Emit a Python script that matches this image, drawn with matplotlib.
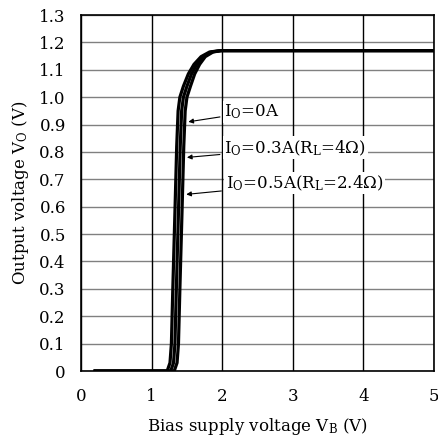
import matplotlib
matplotlib.use("Agg")
import matplotlib.pyplot as plt

plt.rcParams['font.family'] = ['DejaVu Serif']
plt.rcParams['mathtext.fontset'] = 'dejavuserif'

# curves (V_B, V_O)
vo_pts = [0.0, 0.0, 0.03, 0.10, 0.30, 0.58, 0.82, 0.95, 1.00, 1.04, 1.085, 1.12, 1.148, 1.165, 1.17, 1.17]
vb_0a = [0.2, 1.22, 1.26, 1.28, 1.30, 1.33, 1.355, 1.375, 1.40, 1.45, 1.52, 1.60, 1.70, 1.82, 1.97, 5.0]
vb_03a = [0.2, 1.27, 1.31, 1.33, 1.35, 1.38, 1.405, 1.425, 1.45, 1.50, 1.565, 1.64, 1.73, 1.845, 1.98, 5.0]
vb_05a = [0.2, 1.32, 1.36, 1.38, 1.40, 1.43, 1.455, 1.475, 1.50, 1.55, 1.61, 1.68, 1.76, 1.87, 1.99, 5.0]

x_ticks = [0, 1, 2, 3, 4, 5]
y_ticks = [0, 0.1, 0.2, 0.3, 0.4, 0.5, 0.6, 0.7, 0.8, 0.9, 1.0, 1.1, 1.2, 1.3]
y_labels = ['0', '0.1', '0.2', '0.3', '0.4', '0.5', '0.6', '0.7', '0.8', '0.9', '1.0', '1.1', '1.2', '1.3']

fig = plt.figure(figsize=(4.38, 4.42), dpi=100)
ax = fig.add_axes([0.185, 0.1606, 0.806, 0.8054])

for y in y_ticks:
    ax.axhline(y, color='#808080', lw=1.0, zorder=1)
for x in x_ticks:
    ax.axvline(x, color='black', lw=1.0, zorder=1)

for vb in [vb_0a, vb_03a, vb_05a]:
    ax.plot(vb, vo_pts, color='black', lw=2.3, zorder=3)

ax.set_xlim(0, 5)
ax.set_ylim(0, 1.3)
ax.set_xticks(x_ticks)
ax.set_yticks(y_ticks)
ax.set_yticklabels(y_labels)
ax.tick_params(length=0, labelsize=12)
ax.tick_params(axis='x', pad=12)
ax.tick_params(axis='y', pad=11)
for s in ax.spines.values():
    s.set_linewidth(1.2)
    s.set_zorder(5)

ax.set_xlabel(r'Bias supply voltage V$_\mathrm{B}$ (V)', fontsize=12, labelpad=8)
ax.set_ylabel(r'Output voltage V$_\mathrm{O}$ (V)', fontsize=12, labelpad=6)

labels = [r'I$_\mathrm{O}$=0A', r'I$_\mathrm{O}$=0.3A(R$_\mathrm{L}$=4Ω)', r'I$_\mathrm{O}$=0.5A(R$_\mathrm{L}$=2.4Ω)']
text_pos = [(2.03, 0.946), (2.03, 0.815), (2.05, 0.687)]
tips = [(1.52, 0.91), (1.50, 0.78), (1.49, 0.645)]
for lab, (tx, ty), (ax_, ay) in zip(labels, text_pos, tips):
    ax.annotate(lab, xy=(ax_, ay), xytext=(tx, ty), fontsize=12, va='center', ha='left',
                bbox=dict(boxstyle='square,pad=0.1', fc='white', ec='none'),
                arrowprops=dict(arrowstyle='-|>', color='black', lw=0.8, mutation_scale=7,
                                shrinkA=2, shrinkB=0), zorder=4)

fig.savefig('out.png', dpi=100)
